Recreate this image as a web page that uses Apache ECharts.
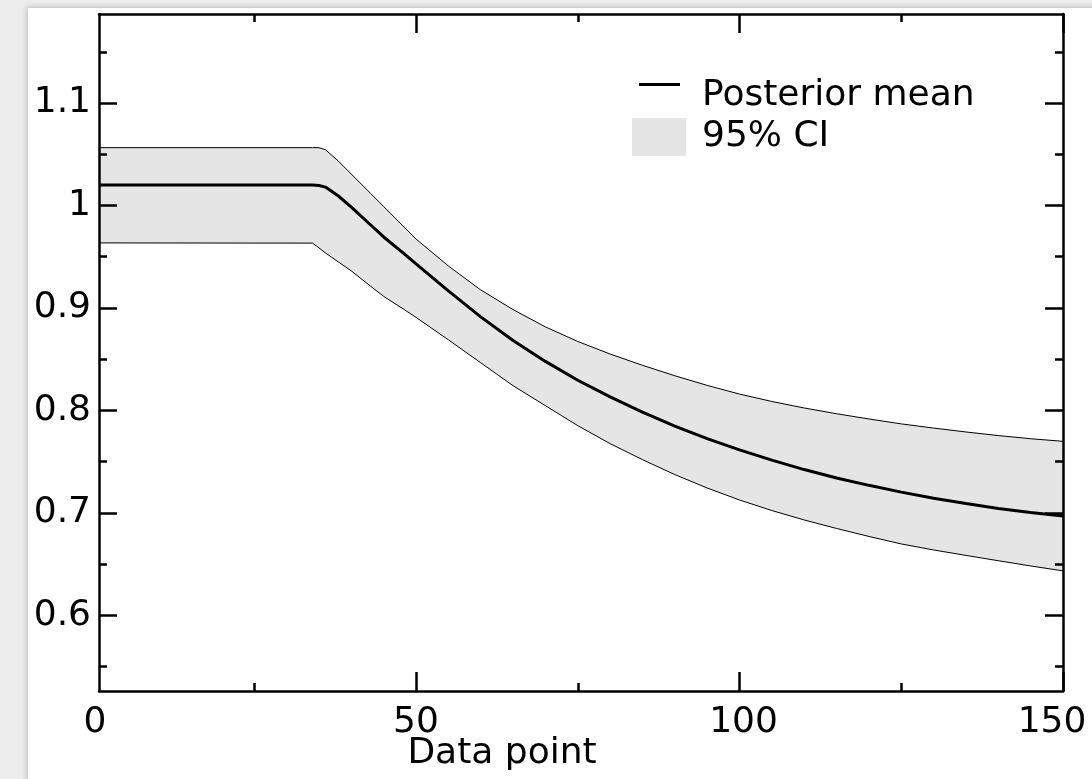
<!DOCTYPE html>
<html><head><meta charset="utf-8">
<script src="https://cdn.jsdelivr.net/npm/echarts@6/dist/echarts.min.js"></script>
<style>
html,body{margin:0;padding:0;width:1092px;height:779px;overflow:hidden;background:#ededed;}
#panel{position:absolute;left:28px;top:8px;width:1100px;height:800px;background:#fff;box-shadow:-1px -1px 5px rgba(0,0,0,0.22);}
#chart{position:absolute;left:0;top:0;width:1092px;height:779px;}
</style></head><body>
<div id="panel"></div><div id="chart"></div>
<script>
// Data point index (x) and posterior values
const xValues     = [1, 34, 35, 36, 38, 40, 43, 45, 48, 50, 55, 60, 65, 70, 75, 80, 85, 90, 95, 100, 105, 110, 115, 120, 125, 130, 135, 140, 145, 150];
const meanValues  = [1.020, 1.020, 1.0195, 1.018, 1.0093, 0.9985, 0.981, 0.9693, 0.9537, 0.943, 0.9166, 0.8913, 0.8682, 0.8478, 0.8294, 0.8131, 0.7982, 0.7847, 0.7724, 0.7614, 0.7514, 0.7422, 0.7340, 0.7268, 0.7202, 0.7141, 0.7090, 0.7041, 0.7003, 0.6968];
const upperValues = [1.0565, 1.0565, 1.0565, 1.0545, 1.0434, 1.0307, 1.0117, 0.9990, 0.9800, 0.9673, 0.9410, 0.9176, 0.8984, 0.8815, 0.8673, 0.8550, 0.8440, 0.8338, 0.8244, 0.8159, 0.8087, 0.8023, 0.7967, 0.7916, 0.7868, 0.7827, 0.7789, 0.7754, 0.7723, 0.7698];
const lowerValues = [0.9635, 0.9633, 0.9586, 0.9537, 0.9449, 0.9362, 0.9211, 0.9113, 0.8991, 0.8908, 0.8689, 0.8465, 0.8241, 0.8046, 0.7851, 0.7675, 0.7519, 0.7373, 0.7242, 0.7125, 0.7022, 0.6930, 0.6847, 0.6769, 0.6696, 0.6637, 0.6584, 0.6532, 0.6481, 0.6433];

const xLabelValues = [1, 50, 100, 150];
const xLabelTexts  = ['0', '50', '100', '150'];
const xMajorTicks  = [50, 100, 150];
const xMinorTicks  = [25, 75, 125];
const yMajorTicks  = [0.6, 0.7, 0.8, 0.9, 1.0, 1.1];
const yMinorTicks  = [0.55, 0.65, 0.75, 0.85, 0.95, 1.05, 1.15];

const X_MIN = 1, X_MAX = 150, Y_MIN = 0.526, Y_MAX = 1.187;
const FONT = 'DejaVu Sans';

const upperData = xValues.map((x, i) => [x, upperValues[i]]);
const lowerData = xValues.map((x, i) => [x, lowerValues[i]]);
const meanData  = xValues.map((x, i) => [x, meanValues[i]]);

const lineC = {show: true, onZero: false, lineStyle: {color: '#000', width: 2.5}};
function xAx(pos, ticks, len, withLine, labels) {
  const a = {
    type: 'value', position: pos, min: X_MIN, max: X_MAX, z: 10,
    axisLine: withLine ? lineC : {show: false, onZero: false},
    axisTick: {show: true, inside: true, length: len, customValues: ticks, lineStyle: {color: '#000', width: 2.5}},
    axisLabel: {show: false}, splitLine: {show: false}
  };
  if (labels) {
    a.axisLabel = {
      show: true, customValues: xLabelValues, margin: 14,
      fontFamily: FONT, fontSize: 36, color: '#000',
      formatter: (v) => {
        const i = xLabelValues.indexOf(v);
        const t = i >= 0 ? xLabelTexts[i] : '';
        if (i === 0) return '{l|' + t + '}';
        if (i === 2) return '{m|' + t + '}';
        if (i === 3) return '{r|' + t + '}';
        return t;
      },
      rich: {
        l: {fontFamily: FONT, fontSize: 36, color: '#000', padding: [0, 8, 0, 0]},
        m: {fontFamily: FONT, fontSize: 36, color: '#000', padding: [0, 0, 0, 8]},
        r: {fontFamily: FONT, fontSize: 36, color: '#000', padding: [0, 22, 0, 0]}
      }
    };
    a.name = 'Data point';
    a.nameLocation = 'middle';
    a.nameGap = 45;
    a.nameMoveOverlap = false;
    a.nameTextStyle = {fontFamily: FONT, fontSize: 36, color: '#000', padding: [0, 158, 0, 0]};
  }
  return a;
}
function yAx(pos, ticks, len, withLine, labels) {
  const a = {
    type: 'value', position: pos, min: Y_MIN, max: Y_MAX, z: 10,
    axisLine: withLine ? lineC : {show: false, onZero: false},
    axisTick: {show: true, inside: true, length: len, customValues: ticks, lineStyle: {color: '#000', width: 2.5}},
    axisLabel: {show: false}, splitLine: {show: false}
  };
  if (labels) {
    a.axisLabel = {show: true, customValues: yMajorTicks, margin: 8, fontFamily: FONT, fontSize: 36, color: '#000',
      formatter: (v) => String(Math.round(v * 10) / 10)};
  }
  return a;
}

const chart = echarts.init(document.getElementById('chart'), null, {renderer: 'canvas'});
chart.setOption({
  animation: false,
  backgroundColor: 'transparent',
  grid: {left: 99, right: 29, top: 14, bottom: 88, containLabel: false, outerBoundsMode: 'none'},
  xAxis: [
    xAx('bottom', xMajorTicks, 19, true, true),
    xAx('bottom', xMinorTicks, 8, false, false),
    xAx('top', xMajorTicks, 19, true, false),
    xAx('top', xMinorTicks, 8, false, false)
  ],
  yAxis: [
    yAx('left', yMajorTicks, 18, true, true),
    yAx('left', yMinorTicks, 8, false, false),
    yAx('right', yMajorTicks, 18, true, false),
    yAx('right', yMinorTicks, 8, false, false)
  ],
  legend: [
    {
      data: [{name: 'Posterior mean', icon: 'path://M0,0H41V3H0Z M0,25.99H0.01V26H0Z',
        itemStyle: {color: '#000', borderWidth: 0}, lineStyle: {width: 0}}],
      orient: 'vertical', left: 639, top: 78, padding: 0,
      itemWidth: 41, itemHeight: 26,
      textStyle: {fontFamily: FONT, fontSize: 36, color: '#000', padding: [0, 0, 0, 17]},
      selectedMode: false
    },
    {
      data: [{name: '95% CI', icon: 'rect', itemStyle: {color: '#e5e5e5', borderWidth: 0}, lineStyle: {width: 0}}],
      orient: 'vertical', left: 632, top: 118, padding: 0,
      itemWidth: 54, itemHeight: 38,
      textStyle: {fontFamily: FONT, fontSize: 36, color: '#000', padding: [0, 0, 0, 11]},
      selectedMode: false
    }
  ],
  series: [
    {name: '95% CI', type: 'line', xAxisIndex: 0, yAxisIndex: 0, data: upperData, symbol: 'none',
      lineStyle: {color: '#000', width: 1}, itemStyle: {color: '#e5e5e5'},
      areaStyle: {color: '#e5e5e5', opacity: 1, origin: 'start'}, z: 2, silent: true},
    {name: 'lower', type: 'line', xAxisIndex: 0, yAxisIndex: 0, data: lowerData, symbol: 'none',
      lineStyle: {color: '#000', width: 1}, itemStyle: {color: '#fff'},
      areaStyle: {color: '#fff', opacity: 1, origin: 'start'}, z: 2, silent: true},
    {name: 'Posterior mean', type: 'line', xAxisIndex: 0, yAxisIndex: 0, data: meanData, symbol: 'none',
      lineStyle: {color: '#000', width: 3}, itemStyle: {color: '#000'}, z: 3, silent: true}
  ]
});
</script>
</body></html>
